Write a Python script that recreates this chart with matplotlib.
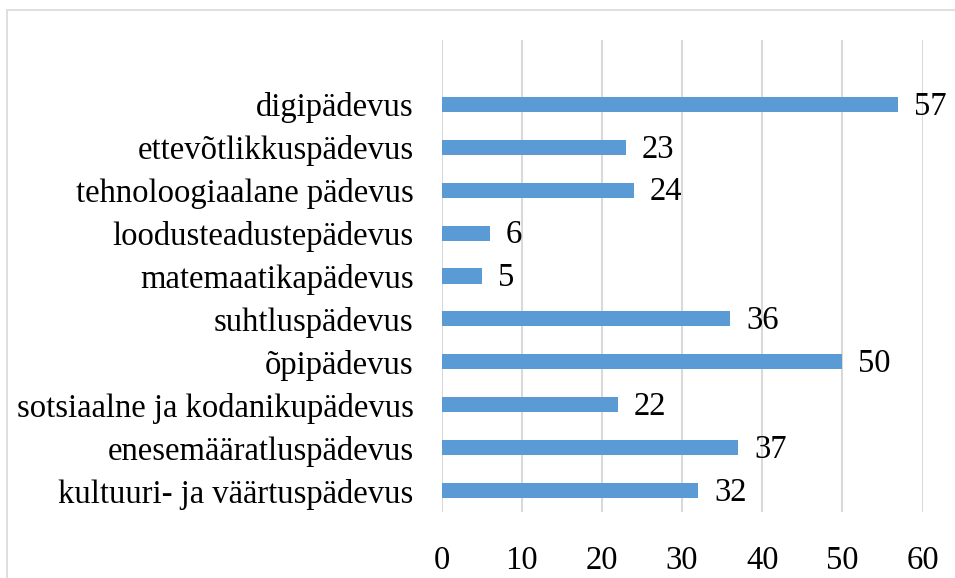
import matplotlib.pyplot as plt
from matplotlib.patches import Rectangle

categories = ["kultuuri- ja väärtuspädevus", "enesemääratluspädevus",
              "sotsiaalne ja kodanikupädevus", "õpipädevus", "suhtluspädevus",
              "matemaatikapädevus", "loodusteadustepädevus",
              "tehnoloogiaalane pädevus", "ettevõtlikkuspädevus", "digipädevus"]
values = [32, 37, 22, 50, 36, 5, 6, 24, 23, 57]
x_ticks = [0, 10, 20, 30, 40, 50, 60]

plt.rcParams['font.family'] = ['Liberation Serif', 'DejaVu Serif']
fs = 23.5

fig = plt.figure(figsize=(9.55, 5.78), dpi=100)
ax = fig.add_axes([441.5 / 955, 1 - 512 / 578, 481 / 955, 472 / 578])

ypos = list(range(len(categories)))
ax.barh(ypos, values, height=0.35, color='#5B9BD5', zorder=3)

# value labels just right of each bar
for y, v in zip(ypos, values):
    ax.annotate(str(v), (v, y), xytext=(16, -2), textcoords='offset pixels',
                ha='left', va='center', fontsize=fs)

ax.set_xlim(0, 60)
ax.set_ylim(-0.5, 10.5)
ax.set_xticks(x_ticks)
ax.set_xticklabels([str(t) for t in x_ticks], fontsize=fs)
ax.set_yticks(ypos)
ax.set_yticklabels(categories, fontsize=fs)
ax.tick_params(axis='both', length=0)
ax.tick_params(axis='y', pad=20)
ax.tick_params(axis='x', pad=24)
ax.grid(axis='x', color='#D9D9D9', linewidth=1.5, zorder=0)
for s in ax.spines.values():
    s.set_visible(False)

fig.patches.append(Rectangle((7 / 955, -0.1), 2, 1 - 10 / 578 + 0.1, transform=fig.transFigure,
                             fill=False, edgecolor='#D9D9D9', linewidth=1.2))

fig.savefig('out.png', dpi=100)
